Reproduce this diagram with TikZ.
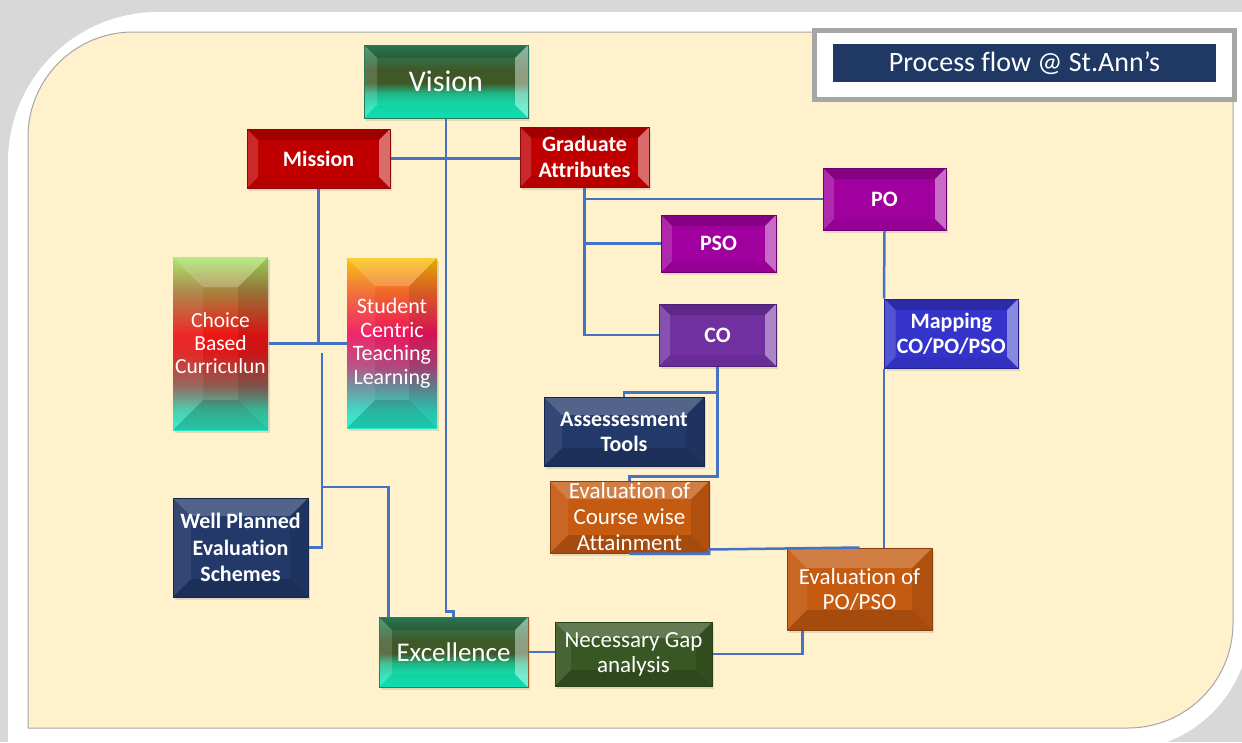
\documentclass[tikz,border=0pt]{standalone}
\usepackage{fontspec}
\setmainfont{Carlito}[Ligatures=NoCommon]
\usetikzlibrary{shadows,calc}

\definecolor{framegrey}{HTML}{D8D8D8}
\definecolor{cream}{HTML}{FFF1CC}
\definecolor{titlegrey}{HTML}{A6A6A6}
\definecolor{navy}{HTML}{203864}
\definecolor{navybox}{HTML}{22396A}
\definecolor{navybd}{HTML}{16264A}
\definecolor{lineblue}{HTML}{4472C4}
\definecolor{redA}{HTML}{C00000}
\definecolor{redB}{HTML}{8A0A0A}
\definecolor{purA}{HTML}{A0009E}
\definecolor{purB}{HTML}{6E006E}
\definecolor{coA}{HTML}{7030A0}
\definecolor{coB}{HTML}{4E1F72}
\definecolor{mapA}{HTML}{3434CA}
\definecolor{mapB}{HTML}{22228A}
\definecolor{orA}{HTML}{C55A11}
\definecolor{orB}{HTML}{8A3E0C}
\definecolor{gapA}{HTML}{385723}
\definecolor{gapB}{HTML}{26401A}
\definecolor{visbd}{HTML}{2A7A5A}
\definecolor{excbd}{HTML}{8B5A2B}
% vision / excellence shading colours
\definecolor{vA}{HTML}{2E8C60}
\definecolor{vB}{HTML}{356E45}
\definecolor{vC}{HTML}{3E5827}
\definecolor{vD}{HTML}{1FB585}
\definecolor{vE}{HTML}{12E0B0}
\definecolor{vF}{HTML}{10EABA}
% choice shading colours
\definecolor{cA}{HTML}{A5E566}
\definecolor{cB}{HTML}{A8803C}
\definecolor{cC}{HTML}{F01515}
\definecolor{cD}{HTML}{E01818}
\definecolor{cE}{HTML}{8A6055}
\definecolor{cF}{HTML}{40C8A8}
\definecolor{cG}{HTML}{28EEC8}
% student shading colours
\definecolor{sA}{HTML}{FAC000}
\definecolor{sB}{HTML}{F06A28}
\definecolor{sC}{HTML}{F0145C}
\definecolor{sD}{HTML}{B04880}
\definecolor{sE}{HTML}{6A8898}
\definecolor{sF}{HTML}{30D8C0}
\definecolor{sG}{HTML}{20F0D0}

\pgfdeclareverticalshading{visshade}{100bp}{color(0bp)=(vF); color(25bp)=(vF); color(33bp)=(vE); color(42bp)=(vD); color(49bp)=(vC); color(58bp)=(vC); color(66bp)=(vB); color(75bp)=(vA); color(100bp)=(vA)}
\pgfdeclareverticalshading{cbcshade}{100bp}{color(0bp)=(cG); color(25bp)=(cG); color(31bp)=(cF); color(37.5bp)=(cE); color(47.5bp)=(cD); color(52.5bp)=(cC); color(65bp)=(cB); color(75bp)=(cA); color(100bp)=(cA)}
\pgfdeclareverticalshading{sctshade}{100bp}{color(0bp)=(sG); color(25bp)=(sG); color(30bp)=(sF); color(37.5bp)=(sE); color(43bp)=(sD); color(53bp)=(sC); color(65.5bp)=(sB); color(75bp)=(sA); color(100bp)=(sA)}

\newcommand\bev[5]{%
  \path (path picture bounding box.north west) coordinate (bvNW)
        (path picture bounding box.north east) coordinate (bvNE)
        (path picture bounding box.south west) coordinate (bvSW)
        (path picture bounding box.south east) coordinate (bvSE);
  \fill[#2] (bvNW) -- (bvNE) -- ([shift={(-#1,-#1)}]bvNE) -- ([shift={(#1,-#1)}]bvNW) -- cycle;
  \fill[#3] (bvNW) -- (bvSW) -- ([shift={(#1,#1)}]bvSW) -- ([shift={(#1,-#1)}]bvNW) -- cycle;
  \fill[#4] (bvNE) -- (bvSE) -- ([shift={(-#1,#1)}]bvSE) -- ([shift={(-#1,-#1)}]bvNE) -- cycle;
  \fill[#5] (bvSW) -- (bvSE) -- ([shift={(-#1,#1)}]bvSE) -- ([shift={(#1,#1)}]bvSW) -- cycle;
}

\begin{document}
\begin{tikzpicture}[x=1pt,y=1pt,
  conn/.style={draw=lineblue,line width=2.5pt},
  box/.style={rectangle,inner sep=0pt,align=center,text=white,line width=1pt,
    drop shadow={shadow xshift=2pt,shadow yshift=-3pt,opacity=.22}},
  btn/.style={box,path picture={\bev{#1}{black,opacity=.16}{white,opacity=.16}{white,opacity=.42}{black,opacity=.05}}},
  pyr/.style={box,path picture={\bev{#1}{white,opacity=.22}{white,opacity=.08}{black,opacity=.1}{black,opacity=.16}}},
  fbold/.style={font=\fontsize{22}{26}\selectfont\bfseries},
]
\useasboundingbox (0,0) rectangle (1242,-742);
% page background and frame
\fill[framegrey] (0,0) rectangle (1242,-742);
\fill[white] (8,-750) -- (8,-162) arc[start angle=180,end angle=90,radius=150]
  -- (1250,-12) -- (1250,-622) arc[start angle=0,end angle=-90,radius=128] -- cycle;
\filldraw[fill=cream,draw=black!35,line width=1pt] (28,-728) -- (28,-137) arc[start angle=180,end angle=90,radius=105]
  -- (1233,-32) -- (1233,-623) arc[start angle=0,end angle=-90,radius=105] -- cycle;

% title
\node[draw=titlegrey,line width=5pt,fill=white,minimum width=420pt,minimum height=69pt,inner sep=0pt] (tframe) at (1024.5,-65) {};
\node[fill=navy,minimum width=383pt,minimum height=38pt,inner sep=0pt,text=white,font=\fontsize{28}{30}\selectfont] (title) at (1024.5,-63) {Process flow @ St.Ann’s};

% nodes
\node[btn=13,shade,shading=visshade,draw=visbd,minimum width=164pt,minimum height=73pt,font=\fontsize{30}{34}\selectfont] (vis) at (446,-81.5) {Vision};
\node[btn=11,fill=redA,draw=redB,minimum width=143pt,minimum height=59pt,fbold] (mis) at (318.5,-158.5) {Mission};
\node[btn=11,fill=redA,draw=redB,minimum width=129pt,minimum height=60pt,fbold] (ga) at (584.5,-157) {Graduate\\Attributes};
\node[btn=11,fill=purA,draw=purB,minimum width=123pt,minimum height=62pt,fbold] (po) at (884.5,-199) {PO};
\node[btn=11,fill=purA,draw=purB,minimum width=115pt,minimum height=57pt,fbold] (pso) at (718.5,-243.5) {PSO};
\node[btn=11,fill=coA,draw=coB,minimum width=117pt,minimum height=62pt,fbold] (co) at (717.5,-335) {CO};
\node[btn=11,fill=mapA,draw=mapB,minimum width=133.5pt,minimum height=69pt,font=\fontsize{22}{25}\selectfont\bfseries] (map) at (951.25,-333.5) {Mapping\\CO/PO/PSO};
\node[pyr=30,shade,shading=cbcshade,draw=none,minimum width=95pt,minimum height=173pt,font=\fontsize{21.5}{23}\selectfont] (cbc) at (220.5,-343.5) {Choice\\Based\\Curriculun};
\node[pyr=28,shade,shading=sctshade,draw=none,minimum width=90pt,minimum height=170pt,font=\fontsize{22}{23.5}\selectfont] (sct) at (392,-343) {Student\\Centric\\Teaching\\Learning};
\node[pyr=18,fill=navybox,draw=navybd,minimum width=160pt,minimum height=69pt,font=\fontsize{22}{25}\selectfont\bfseries] (at) at (624,-431.5) {Assessesment\\Tools};
\node[pyr=18,fill=orA,draw=orB,minimum width=159pt,minimum height=72pt,font=\fontsize{23}{26}\selectfont] (ec) at (629.5,-517) {Evaluation of\\Course wise\\Attainment};
\node[pyr=18,fill=navybox,draw=navybd,minimum width=135pt,minimum height=99pt,font=\fontsize{22}{26.5}\selectfont\bfseries] (wps) at (240.5,-547.5) {Well Planned\\Evaluation\\Schemes};
\node[pyr=20,fill=orA,draw=orB,minimum width=145pt,minimum height=82pt,font=\fontsize{23}{25}\selectfont] (evpo) at (859.5,-589) {Evaluation of\\PO/PSO};
\node[btn=13,shade,shading=visshade,draw=excbd,minimum width=149pt,minimum height=70pt,font=\fontsize{27}{30}\selectfont] (exc) at (453.5,-652) {Excellence};
\node[pyr=16,fill=gapA,draw=gapB,minimum width=157pt,minimum height=64pt,font=\fontsize{23}{25}\selectfont] (gap) at (633.5,-654) {Necessary Gap\\analysis};

% connectors
\coordinate (m1) at (322,-353);
\coordinate (m2) at (322,-487);
\draw[conn] (vis.south) -- ($(vis.south |- exc.north)+(0,5)$) -| (exc.north);
\draw[conn] (mis.east) -- (mis.east -| ga.west);
\draw[conn] (mis.south) -- (mis.south |- cbc.east);
\draw[conn] (cbc.east) -- (cbc.east -| sct.west);
\draw[conn] (m1) |- (wps.east);
\draw[conn] (m2) -| ($(exc.north west)+(10,0)$);
\draw[conn] (ga.south) |- (co.west);
\draw[conn] (ga.south |- po.west) -- (po.west);
\draw[conn] (ga.south |- pso.west) -- (pso.west);
\draw[conn] (co.south) -- ++(0,-26) -| (at.north);
\draw[conn] ($(co.south)+(0,-26)$) -- ++(0,-84) -| (ec.north);
\draw[conn] (ec.south) -- ++(79.5,0) -- ++(0,4) -- (evpo.north);
\draw[conn] (po.south) -- (map.north west);
\draw[conn] (map.south west) -- (map.south west |- evpo.north);
\draw[conn] ($(evpo.south west)+(16,0)$) |- (gap.east);
\draw[conn] (exc.east) -- (exc.east -| gap.west);
\end{tikzpicture}
\end{document}
